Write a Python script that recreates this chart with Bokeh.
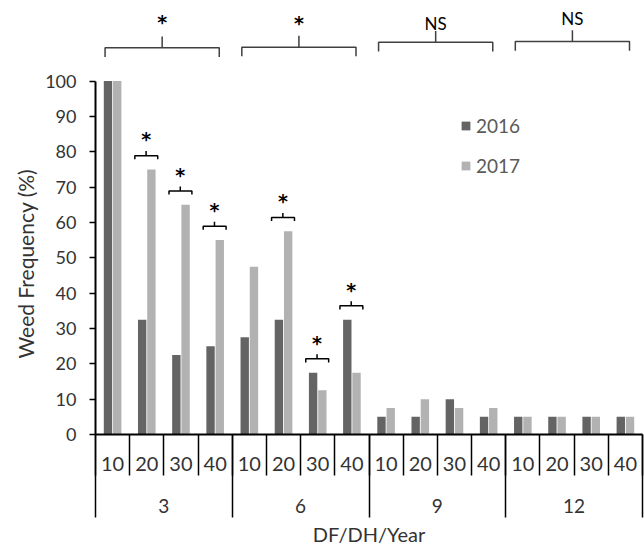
import numpy as np
from bokeh.plotting import figure
from bokeh.models import (Range1d, FixedTicker, LinearAxis, Legend, LegendItem, Title)
from bokeh.core.properties import value
from bokeh.embed import file_html
from bokeh.resources import INLINE

# Weed frequency by DF (group) and DH (sub-category), two seasons
df_groups = ["3", "6", "9", "12"]
dh_levels = ["10", "20", "30", "40"]
freq_2016 = [100, 32.5, 22.5, 25, 27.5, 32.5, 17.5, 32.5, 5, 5, 10, 5, 5, 5, 5, 5]
freq_2017 = [100, 75, 65, 55, 47.5, 57.5, 12.5, 17.5, 7.5, 10, 7.5, 7.5, 5, 5, 5, 5]
# significance marks: year comparison per DF/DH cell, and per DF group
cell_signif = ["", "*", "*", "*", "", "*", "*", "*", "", "", "", "", "", "", "", ""]
group_signif = ["*", "*", "NS", "NS"]

FONT = "Lato"
STAR_FONT = "DejaVu Sans"
TEXT_COLOR = "#333333"
DARK = "#646464"
LIGHT = "#b2b2b2"

n_cells = len(freq_2016)
n_sub = len(dh_levels)
centers = np.arange(n_cells) + 0.5
cell_edges = list(range(0, n_cells + 1))
group_edges = list(range(0, n_cells + 1, n_sub))

p = figure(width=644, height=548, output_backend="svg", toolbar_location=None,
           x_range=Range1d(0, n_cells), y_range=Range1d(0, 122.8),
           x_axis_type=None, y_axis_type=None,
           min_border_left=95, min_border_right=2, min_border_top=0,
           min_border_bottom=114)
p.outline_line_color = None
p.xgrid.visible = False
p.ygrid.visible = False

# bars
bw = 0.245
off = 0.135
r16 = p.vbar(x=centers - off, top=freq_2016, width=bw, fill_color=DARK, line_color=None)
r17 = p.vbar(x=centers + off, top=freq_2017, width=bw, fill_color=LIGHT, line_color=None)

# y axis
yax = LinearAxis(ticker=FixedTicker(ticks=list(range(0, 101, 10)), minor_ticks=[]),
                 bounds=(0, 100))
yax.axis_line_width = 2
yax.axis_line_color = "black"
yax.major_tick_out = 6
yax.major_tick_in = 0
yax.major_tick_line_width = 1.5
yax.minor_tick_out = 0
yax.minor_tick_in = 0
yax.major_label_standoff = 13
yax.major_label_text_font = FONT
yax.major_label_text_font_size = "18px"
yax.major_label_text_color = TEXT_COLOR
p.add_layout(yax, "left")

# y title, centred on the 0-100 span of the axis
ytitle = Title(text="Weed Frequency (%)", align="left", offset=76, standoff=10,
               text_font=FONT, text_font_size="21px", text_font_style="normal",
               text_color=TEXT_COLOR)
p.add_layout(ytitle, "left")

# x axis, row 1: DH labels
sub_ticks = [float(c) for c in centers]
xax1 = LinearAxis(ticker=FixedTicker(ticks=sub_ticks, minor_ticks=[]))
xax1.major_label_overrides = {t: dh_levels[i % n_sub] for i, t in enumerate(sub_ticks)}
xax1.axis_line_width = 2
xax1.axis_line_color = "black"
xax1.major_tick_out = 0
xax1.major_tick_in = 0
xax1.minor_tick_in = 0
xax1.minor_tick_out = 0
xax1.major_label_standoff = 22
xax1.major_label_text_font = FONT
xax1.major_label_text_font_size = "20px"
xax1.major_label_text_color = TEXT_COLOR
p.add_layout(xax1, "below")

# x axis, row 2: DF labels; its minor ticks reach up as the cell separators
grp_ticks = [float(g * n_sub + n_sub / 2) for g in range(len(df_groups))]
xax2 = LinearAxis(ticker=FixedTicker(ticks=grp_ticks, minor_ticks=cell_edges))
xax2.major_label_overrides = {t: df_groups[i] for i, t in enumerate(grp_ticks)}
xax2.axis_line_color = None
xax2.major_tick_out = 0
xax2.major_tick_in = 0
xax2.minor_tick_in = 39
xax2.minor_tick_out = 2
xax2.minor_tick_line_width = 1.5
xax2.minor_tick_line_color = "black"
xax2.major_label_standoff = 23
xax2.major_label_text_font = FONT
xax2.major_label_text_font_size = "19px"
xax2.major_label_text_color = TEXT_COLOR
p.add_layout(xax2, "below")

# x axis, row 3: group separators running up through both rows, and the title
xax3 = LinearAxis(ticker=FixedTicker(ticks=[], minor_ticks=group_edges),
                  axis_label="DF/DH/Year")
xax3.axis_line_color = None
xax3.major_tick_out = 0
xax3.major_tick_in = 0
xax3.minor_tick_in = 81
xax3.minor_tick_out = 2
xax3.minor_tick_line_width = 1.5
xax3.minor_tick_line_color = "black"
xax3.major_label_standoff = 0
xax3.major_label_text_font_size = "0px"
xax3.axis_label_text_font = FONT
xax3.axis_label_text_font_size = "20px"
xax3.axis_label_text_font_style = "normal"
xax3.axis_label_text_color = TEXT_COLOR
xax3.axis_label_standoff = 4
p.add_layout(xax3, "below")

# per-cell significance brackets above the taller bar
bx, by, sx, sy, st = [], [], [], [], []
for i, mark in enumerate(cell_signif):
    if not mark:
        continue
    c = centers[i]
    top = max(freq_2016[i], freq_2017[i]) + 3.9
    x0, x1, xm = c - 0.35, c + 0.32, c - 0.02
    bx.append([x0, x0, x1, x1])
    by.append([top - 1.0, top, top, top - 1.0])
    bx.append([xm, xm])
    by.append([top, top + 1.3])
    sx.append(xm)
    sy.append(top + 4.6)
    st.append(mark)
p.multi_line(xs=bx, ys=by, line_color="black", line_width=1.5)
p.text(x=sx, y=sy, text=st, text_font=value(STAR_FONT), text_font_style="bold",
       text_font_size="19px", text_align="center", text_baseline="alphabetic",
       text_color="black")

# group-level brackets above the plot
bracket_level = [109.4, 109.6, 111.0, 111.2]
label_lift = [7.4, 6.8, 5.4, 6.6]
gx, gy = [], []
star_x, star_y, ns_x, ns_y, ns_t = [], [], [], [], []
for g, mark in enumerate(group_signif):
    base = g * n_sub
    level = bracket_level[g]
    x0, x1, xm = base + 0.28, base + n_sub - 0.38, base + n_sub / 2 - 0.05
    gx.append([x0, x0, x1, x1])
    gy.append([level - 2.6, level, level, level - 2.6])
    gx.append([xm, xm])
    gy.append([level, level + 3.2])
    if mark == "*":
        star_x.append(xm)
        star_y.append(level + label_lift[g])
    else:
        ns_x.append(xm)
        ns_y.append(level + label_lift[g])
        ns_t.append(mark)
p.multi_line(xs=gx, ys=gy, line_color="#404040", line_width=1.5)
p.text(x=star_x, y=star_y, text=["*"] * len(star_x), text_font=value(STAR_FONT),
       text_font_style="bold", text_font_size="19px", text_align="center",
       text_baseline="alphabetic", text_color="black")
p.text(x=ns_x, y=ns_y, text=ns_t, text_font=value(FONT),
       text_font_size="17px", text_align="center", text_baseline="alphabetic",
       text_color="black")

legend = Legend(items=[LegendItem(label="2016", renderers=[r16]),
                       LegendItem(label="2017", renderers=[r17])],
                location=(365, 257), orientation="vertical")
legend.glyph_width = 11
legend.glyph_height = 11
legend.label_standoff = 5
legend.label_text_font = FONT
legend.label_text_font_size = "19px"
legend.label_text_color = "#595959"
legend.spacing = 17
legend.padding = 0
legend.margin = 0
legend.border_line_color = None
legend.background_fill_alpha = 0
p.add_layout(legend)

open("out.html", "w").write(file_html(p, INLINE))
